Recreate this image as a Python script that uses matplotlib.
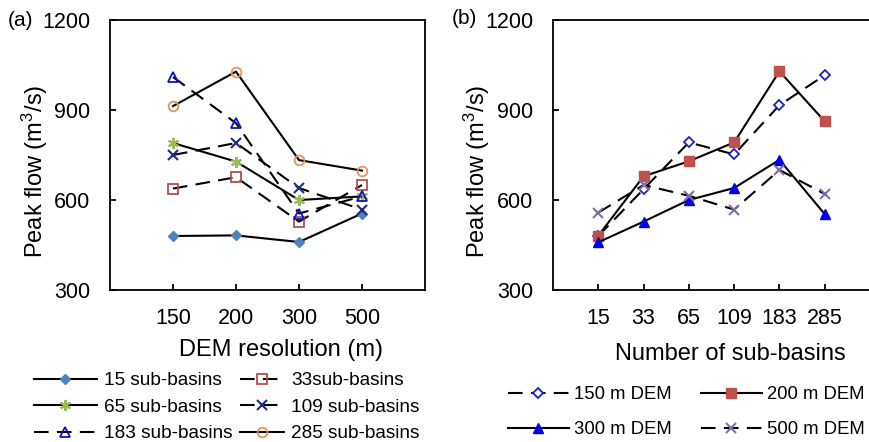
import matplotlib
matplotlib.use("Agg")
import matplotlib.pyplot as plt

plt.rcParams['font.family'] = ['Liberation Sans', 'DejaVu Sans']
plt.rcParams['mathtext.fontset'] = 'custom'
plt.rcParams['mathtext.rm'] = 'Liberation Sans'
plt.rcParams['mathtext.it'] = 'Liberation Sans'

# panel (a): peak flow vs DEM resolution
dem_res = ['150', '200', '300', '500']
sb15 = [480, 482, 460, 555]
sb33 = [638, 676, 528, 650]
sb65 = [790, 728, 600, 612]
sb109 = [750, 790, 640, 568]
sb183 = [1010, 856, 555, 612]
sb285 = [913, 1028, 733, 698]

# panel (b): peak flow vs number of sub-basins
n_basins = ['15', '33', '65', '109', '183', '285']
dem150 = [480, 636, 792, 752, 916, 1016]
dem200 = [481, 679, 729, 792, 1029, 862]
dem300 = [459, 528, 600, 640, 734, 553]
dem500 = [558, 650, 614, 568, 700, 620]

fig = plt.figure(figsize=(8.69, 4.42), dpi=100)
axa = fig.add_axes([110/869, 1-290/442, 315/869, 270/442])
axb = fig.add_axes([553/869, 1-290/442, 317/869, 270/442])

lw = 1.5
dash = (7, 4)
xa = range(len(dem_res))
axa.plot(xa, sb15, color='black', lw=lw, marker='D', ms=5, mfc='#4F81BD', mec='#4F81BD', label='15 sub-basins')
axa.plot(xa, sb33, color='black', lw=lw, dashes=dash, marker='s', ms=7, mfc='none', mec='#B0504D', mew=1.3, label='33sub-basins')
axa.plot(xa, sb65, color='black', lw=lw, marker=(6, 2, 0), ms=8, mec='#9BBB59', mew=1.5, label='65 sub-basins')
axa.plot(xa, sb109, color='black', lw=lw, dashes=dash, marker='x', ms=7, mec='#1F2A80', mew=1.5, label='109 sub-basins')
axa.plot(xa, sb183, color='black', lw=lw, dashes=dash, marker='^', ms=7, mfc='none', mec='#1010CC', mew=1.3, label='183 sub-basins')
axa.plot(xa, sb285, color='black', lw=lw, marker='o', ms=7, mfc='none', mec='#E8955A', mew=1.3, label='285 sub-basins')

xb = range(len(n_basins))
axb.plot(xb, dem150, color='black', lw=lw, dashes=dash, marker='D', ms=5, mfc='white', mec='#2020C0', mew=1.3, label='150 m DEM')
axb.plot(xb, dem200, color='black', lw=lw, marker='s', ms=7, mfc='#C0504D', mec='#C0504D', label='200 m DEM')
axb.plot(xb, dem300, color='black', lw=lw, marker='^', ms=7, mfc='#0000EE', mec='#0000EE', label='300 m DEM')
axb.plot(xb, dem500, color='black', lw=lw, dashes=dash, marker='x', ms=7, mec='#7F6FA8', mew=1.5, label='500 m DEM')

for ax, labels in ((axa, dem_res), (axb, n_basins)):
    ax.set_xlim(-1, len(labels))
    ax.set_ylim(300, 1200)
    ax.set_yticks([300, 600, 900, 1200])
    ax.set_xticks(range(len(labels)))
    ax.set_xticklabels(labels)
    ax.tick_params(direction='in', length=4, width=1.3, labelsize=15.5, pad=13)
    ax.tick_params(axis='y', pad=14)
    for s in ax.spines.values():
        s.set_linewidth(1.3)
    ax.set_ylabel(r'Peak flow (m$^3$/s)', fontsize=17, va='center')

axa.set_xlabel('DEM resolution (m)', fontsize=17, va='center')
axb.set_xlabel('Number of sub-basins', fontsize=17, va='center')
axa.yaxis.set_label_coords(-0.238, 0.44)
axb.yaxis.set_label_coords(-0.24, 0.44)
axa.xaxis.set_label_coords(0.543, -0.222)
axb.xaxis.set_label_coords(0.56, -0.237)

fig.text(8/869, 1-20/442, '(a)', fontsize=15, va='center', ha='left')
fig.text(452/869, 1-19/442, '(b)', fontsize=15, va='center', ha='left')

# legend (a): two separate columns, row by row like the original
ha, la = axa.get_legend_handles_labels()
leg_kw = dict(loc='upper left', bbox_transform=fig.transFigure, frameon=False,
              fontsize=13.7, handletextpad=0.4, labelspacing=0.48, borderpad=0, borderaxespad=0)
fig.legend([ha[i] for i in (0, 2, 4)], [la[i] for i in (0, 2, 4)],
           bbox_to_anchor=(34/869, 1-372/442), handlelength=3.3, **leg_kw)
fig.legend([ha[i] for i in (1, 3, 5)], [la[i] for i in (1, 3, 5)],
           bbox_to_anchor=(240/869, 1-372/442), handlelength=2.3, **leg_kw)

hb, lb = axb.get_legend_handles_labels()
order = [0, 2, 1, 3]
axb.legend([hb[i] for i in order], [lb[i] for i in order],
           loc='upper left', bbox_to_anchor=(508/869, 1-386/442), bbox_transform=fig.transFigure,
           ncol=2, frameon=False, fontsize=13.3, handlelength=3.3, handletextpad=0.3,
           columnspacing=1.55, labelspacing=1.0, borderpad=0, borderaxespad=0)

fig.savefig('out.png', dpi=100)
